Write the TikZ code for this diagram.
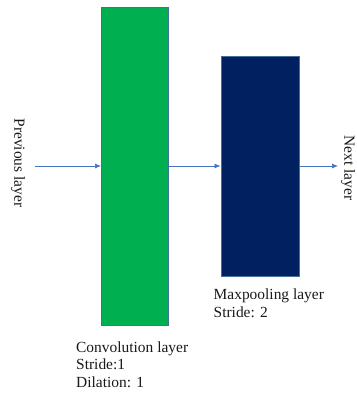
\documentclass[tikz,border=0pt]{standalone}
\usepackage{fontspec}
\setmainfont{Liberation Serif}
\usetikzlibrary{arrows.meta}
\definecolor{convgreen}{HTML}{00B050}
\definecolor{pooldark}{HTML}{002060}
\definecolor{edgeblue}{HTML}{41719C}
\definecolor{flowblue}{HTML}{4472C4}
\tikzset{
  layerbox/.style={draw=edgeblue, line width=0.8pt, anchor=north west, inner sep=0pt},
  flow/.style={draw=flowblue, line width=0.7pt, -{Latex[length=6pt,width=5pt]}},
  caption/.style={font=\fontsize{15.5}{17.2}\selectfont, align=left, inner sep=0pt, text=black!90},
  sidelabel/.style={font=\fontsize{15.5}{17.2}\selectfont, rotate=-90, inner sep=0pt, text=black!90}
}
\begin{document}
\begin{tikzpicture}[x=1bp, y=-1bp]
  \useasboundingbox (0,0) rectangle (357,396);
  % layer blocks
  \node[layerbox, fill=convgreen, minimum width=67bp, minimum height=318bp] (conv) at (101,7) {};
  \node[layerbox, fill=pooldark, minimum width=78bp, minimum height=220bp] (pool) at (220.5,56) {};
  % side labels
  \node[sidelabel] (prev) at (18,163) {Previous layer};
  \node[sidelabel] (next) at (348,168) {Next layer};
  \coordinate (prevend) at (35,166);
  \coordinate (nextend) at (338,166);
  % data flow
  \draw[flow] (prevend) -- (prevend -| conv.west);
  \draw[flow] (conv.east |- prevend) -- (pool.west |- prevend);
  \draw[flow] (pool.east |- prevend) -- (nextend);
  % captions (base anchor sits on the last line)
  \node[caption, anchor=base west] (convcap) at (76,387) {Convolution layer\\Stride:1\\Dilation: 1};
  \node[caption, anchor=base west] (poolcap) at (213.5,317) {Maxpooling layer\\Stride: 2};
\end{tikzpicture}
\end{document}
